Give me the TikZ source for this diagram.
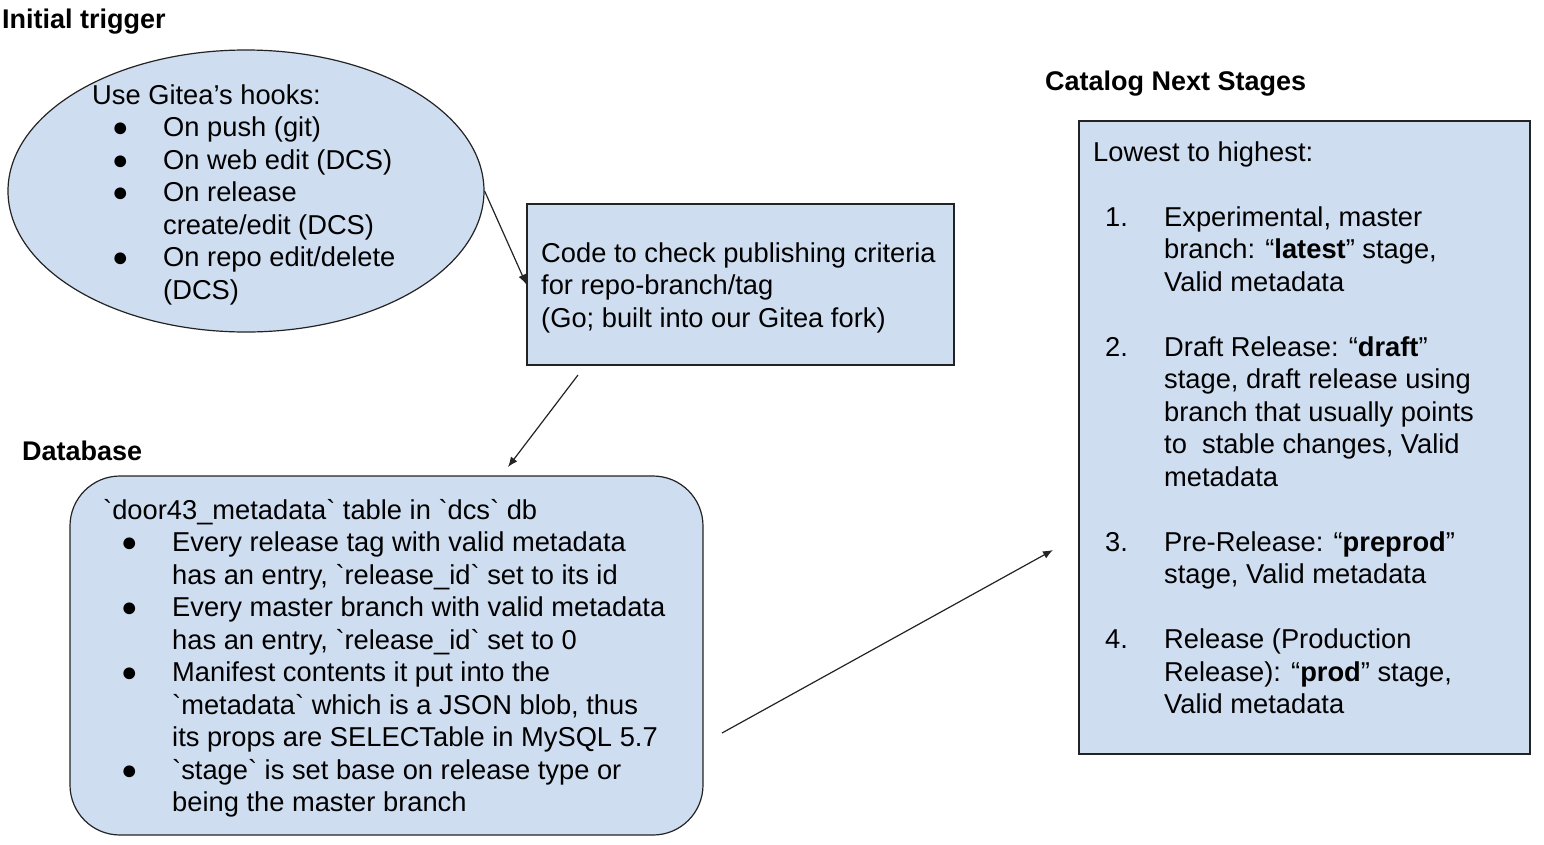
\documentclass[tikz,border=0pt]{standalone}
\usepackage{fontspec}
\newfontfamily\arial{Liberation Sans}
\usetikzlibrary{arrows.meta,shapes.geometric}
\definecolor{boxfill}{RGB}{207,221,240}
\definecolor{edge}{RGB}{35,35,35}
\newcommand\blt{\makebox[71pt][l]{\hspace{20pt}●}}
\newcommand\dblt{\makebox[69pt][l]{\hspace{18pt}●}}
\newcommand\ind{\hspace*{71pt}}
\newcommand\dind{\hspace*{69pt}}
\newcommand\num[1]{\makebox[71pt][l]{\hspace{12pt}#1}}
\begin{document}
\begin{tikzpicture}[x=1pt,y=-1pt,
  shapebox/.style={draw=edge,fill=boxfill,line width=1.2pt,inner sep=0pt},
  txt/.style={anchor=base west,align=left,inner sep=0pt,font=\arial\fontsize{27.3}{32.5}\selectfont},
  lbl/.style={anchor=base west,inner sep=0pt,font=\arial\bfseries\fontsize{27}{32.5}\selectfont},
  conn/.style={draw=edge,line width=1.2pt,-{Latex[length=10pt,width=8pt]}}]
\useasboundingbox (0,0) rectangle (1544,844);

% labels
\node[lbl] (l1) at (2,28) {Initial trigger};
\node[lbl] (l2) at (22,460) {Database};
\node[lbl] (l3) at (1045,90) {Catalog Next Stages};

% shapes
\node[shapebox,ellipse,minimum width=476pt,minimum height=282pt] (trig) at (246,191) {};
\node[shapebox,rectangle,minimum width=427pt,minimum height=161pt] (code) at (740.5,284.5) {};
\node[shapebox,rectangle,rounded corners=50pt,minimum width=633pt,minimum height=359pt] (db) at (386.5,655.5) {};
\node[shapebox,rectangle,minimum width=451pt,minimum height=633pt] (cat) at (1304.5,437.5) {};

% texts (anchored at the baseline of their last line)
\node[txt] (t1) at (92,299) {Use Gitea’s hooks:\\
\blt On push (git)\\
\blt On web edit (DCS)\\
\blt On release\\
\ind create/edit (DCS)\\
\blt On repo edit/delete\\
\ind (DCS)};

\node[txt] (t2) at (541,327) {Code to check publishing criteria\\
for repo-branch/tag\\
(Go; built into our Gitea fork)};

\node[txt] (t3) at (103,811.5) {`door43\_metadata` table in `dcs` db\\
\dblt Every release tag with valid metadata\\
\dind has an entry, `release\_id` set to its id\\
\dblt Every master branch with valid metadata\\
\dind has an entry, `release\_id` set to 0\\
\dblt Manifest contents it put into the\\
\dind `metadata` which is a JSON blob, thus\\
\dind its props are SELECTable in MySQL 5.7\\
\dblt `stage` is set base on release type or\\
\dind being the master branch};

\node[txt] (t4) at (1093,713.5) {Lowest to highest:\\[32.5pt]
\num{1.}Experimental, master\\
\ind branch: “\textbf{latest}” stage,\\
\ind Valid metadata\\[32.5pt]
\num{2.}Draft Release: “\textbf{draft}”\\
\ind stage, draft release using\\
\ind branch that usually points\\
\ind to \ stable changes, Valid\\
\ind metadata\\[32.5pt]
\num{3.}Pre-Release: “\textbf{preprod}”\\
\ind stage, Valid metadata\\[32.5pt]
\num{4.}Release (Production\\
\ind Release): “\textbf{prod}” stage,\\
\ind Valid metadata};

% connectors
\coordinate (a1) at (code.west);
\draw[conn] (trig.east) -- (a1);
\coordinate (a2s) at (578,375);
\coordinate (a2e) at (508,467);
\draw[conn] (a2s) -- (a2e);
\coordinate (a3s) at (722,733);
\coordinate (a3e) at (1053,550);
\draw[conn] (a3s) -- (a3e);
\end{tikzpicture}
\end{document}
